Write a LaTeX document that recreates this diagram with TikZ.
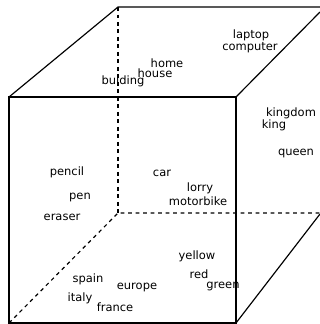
\documentclass[tikz,border=0pt]{standalone}
\usepackage{fontspec}
\setmainfont{DejaVu Sans}
\usepackage{tikz}
\tikzset{
  word/.style={inner sep=0pt,font=\fontsize{9.8}{10}\selectfont},
  edge/.style={line width=1pt},
  hidden/.style={line width=1pt,dash pattern=on 3.2pt off 3.2pt}
}

\begin{document}
\begin{tikzpicture}[x=0.03cm,y=-0.03cm]
\useasboundingbox (0,0) rectangle (320,324);
% corners of the box
\coordinate (ftl) at (9,97);
\coordinate (ftr) at (236,97);
\coordinate (fbl) at (9,323);
\coordinate (fbr) at (236,323);
\coordinate (btl) at (118,7);
\coordinate (bbl) at (118,213);
\coordinate (bbr) at (320,213);
\coordinate (tre) at (320,12);
\coordinate (bre) at (320,214);
\coordinate (topend) at (320,7);
% visible edges
\draw[edge] (ftl) rectangle (fbr);
\draw[edge] (ftl) -- (btl) -- (topend);
\draw[edge] (ftr) -- (tre);
\draw[edge] (fbr) -- (bre);
% hidden edges
\draw[hidden] (btl) -- (bbl);
\draw[hidden] (fbl) -- (bbl) -- (bbr);
% words
\node[word] (laptop) at (251,35) {laptop};
\node[word] (computer) at (250,48) {computer};
\node[word] (home) at (167,63) {home};
\node[word] (house) at (155,73) {house};
\node[word] (buiding) at (123,81) {buiding};
\node[word] (kingdom) at (291,113) {kingdom};
\node[word] (king) at (274,125) {king};
\node[word] (queen) at (296,153) {queen};
\node[word] (pencil) at (67,172) {pencil};
\node[word] (pen) at (80,197) {pen};
\node[word] (eraser) at (62,217) {eraser};
\node[word] (car) at (162,173) {car};
\node[word] (lorry) at (200,188) {lorry};
\node[word] (motorbike) at (198,201) {motorbike};
\node[word] (yellow) at (197,256) {yellow};
\node[word] (red) at (199,274) {red};
\node[word] (green) at (223,286) {green};
\node[word] (spain) at (88,279) {spain};
\node[word] (europe) at (137,287) {europe};
\node[word] (italy) at (80,298) {italy};
\node[word] (france) at (115,307) {france};
\end{tikzpicture}
\end{document}
